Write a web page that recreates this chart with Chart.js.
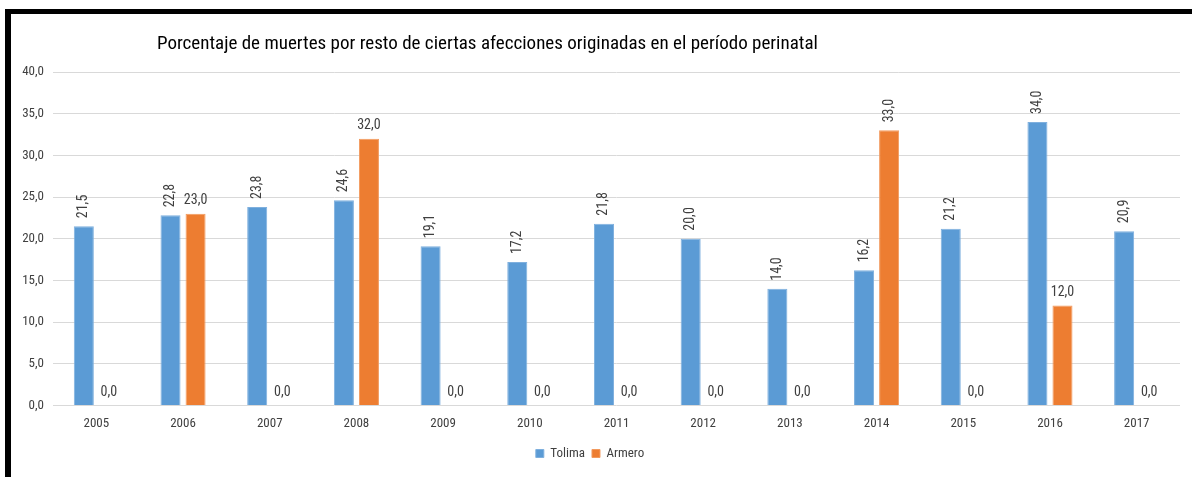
<!DOCTYPE html>
<html>
<head>
<meta charset="UTF-8">
<title>Porcentaje de muertes perinatal</title>
<style>
body { margin: 0; background: #fff; }
#wrap { position: relative; width: 1192px; height: 477px; }
#frame {
    position: absolute; left: 5px; top: 9px; right: 0; bottom: 0;
    border-top: 5px solid #000; border-left: 6px solid #000;
    pointer-events: none;
}
</style>
</head>
<body>
<script src="https://cdn.jsdelivr.net/npm/chart.js@4/dist/chart.umd.min.js"></script>
<div id="wrap">
  <canvas id="grafico" width="1192" height="477"></canvas>
  <div id="frame"></div>
</div>
<script>
var titulo = "Porcentaje de muertes por resto de ciertas afecciones originadas en el período perinatal";
var anios = ["2005","2006","2007","2008","2009","2010","2011","2012","2013","2014","2015","2016","2017"];
var tolima = [21.5, 22.8, 23.8, 24.6, 19.1, 17.2, 21.8, 20.0, 14.0, 16.2, 21.2, 34.0, 20.9];
var armero = [0.0, 23.0, 0.0, 32.0, 0.0, 0.0, 0.0, 0.0, 0.0, 33.0, 0.0, 12.0, 0.0];
// labels of the Armero series that are written vertically
var armeroVertical = ["2014"];

var fuente = "'Roboto Condensed', 'Liberation Sans', sans-serif";
function coma(v) { return v.toFixed(1).replace(".", ","); }

// value labels above the bars
var etiquetas = {
  id: "etiquetas",
  afterDatasetsDraw: function(chart) {
    var ctx = chart.ctx;
    ctx.save();
    ctx.font = "14px " + fuente;
    ctx.fillStyle = "#404040";
    chart.data.datasets.forEach(function(ds, i) {
      var meta = chart.getDatasetMeta(i);
      meta.data.forEach(function(bar, j) {
        var txt = coma(ds.data[j]);
        var vertical = (i == 0) || armeroVertical.indexOf(anios[j]) >= 0;
        if (vertical && ds.data[j] > 0) {
          ctx.save();
          ctx.translate(bar.x, bar.y - 8);
          ctx.rotate(-Math.PI / 2);
          ctx.textAlign = "left";
          ctx.textBaseline = "middle";
          ctx.fillText(txt, 0, 0);
          ctx.restore();
        } else {
          ctx.textAlign = "center";
          ctx.textBaseline = "bottom";
          ctx.fillText(txt, bar.x, bar.y - 6);
        }
      });
    });
    ctx.restore();
  }
};

var tituloPlugin = {
  id: "tituloPlugin",
  afterDraw: function(chart) {
    var ctx = chart.ctx;
    ctx.save();
    ctx.font = "19px " + fuente;
    ctx.fillStyle = "#000";
    ctx.textBaseline = "middle";
    ctx.fillText(titulo, 157, 44);
    ctx.restore();
  }
};

new Chart(document.getElementById("grafico"), {
  type: "bar",
  data: {
    labels: anios,
    datasets: [
      { label: "Tolima", data: tolima, backgroundColor: "#5B9BD5", borderColor: "#7fb0de", borderWidth: 1 },
      { label: "Armero", data: armero, backgroundColor: "#ED7D31", borderColor: "#f29a5e", borderWidth: 1 }
    ]
  },
  options: {
    responsive: false,
    animation: false,
    layout: { padding: { left: 0, right: 12, top: 72, bottom: 7 } },
    datasets: { bar: { categoryPercentage: 0.578, barPercentage: 0.8 } },
    plugins: {
      title: { display: false },
      tooltip: { enabled: false },
      legend: {
        position: "bottom",
        labels: {
          boxWidth: 8, boxHeight: 8, padding: 7,
          color: "#404040",
          font: { family: fuente, size: 13 }
        }
      }
    },
    scales: {
      x: {
        afterFit: function(s) { s.height -= 3; },
        grid: { display: false, drawTicks: false },
        border: { display: false },
        ticks: { color: "#404040", padding: 11, font: { family: fuente, size: 13 } }
      },
      y: {
        min: 0, max: 40,
        afterFit: function(s) { s.width = 53; },
        grid: { color: "#d9d9d9", drawTicks: false },
        border: { display: false },
        ticks: {
          stepSize: 5, padding: 9, color: "#404040",
          font: { family: fuente, size: 13 },
          callback: function(v) { return coma(v); }
        }
      }
    }
  },
  plugins: [etiquetas, tituloPlugin]
});
</script>
</body>
</html>
